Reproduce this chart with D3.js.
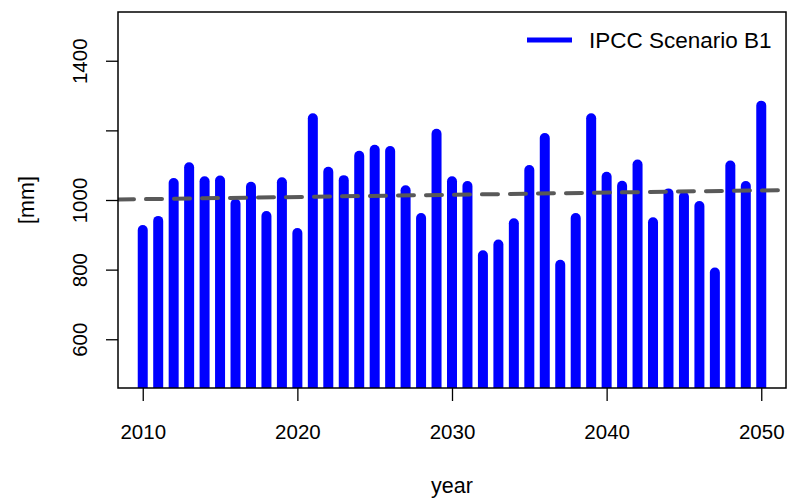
<!DOCTYPE html>
<html>
<head>
<meta charset="utf-8">
<script src="https://cdn.jsdelivr.net/npm/d3@7"></script>
<style>
  body { margin: 0; background: #fff; }
  svg { display: block; }
  text { font-family: "Liberation Sans", Arial, Helvetica, sans-serif; fill: #000; }
</style>
</head>
<body>
<figure id="chart" style="margin:0"></figure>
<script>
// yearly precipitation, scenario B1
const years = [2010, 2011, 2012, 2013, 2014, 2015, 2016, 2017, 2018, 2019,
  2020, 2021, 2022, 2023, 2024, 2025, 2026, 2027, 2028, 2029,
  2030, 2031, 2032, 2033, 2034, 2035, 2036, 2037, 2038, 2039,
  2040, 2041, 2042, 2043, 2044, 2045, 2046, 2047, 2048, 2049, 2050];
const rain = [914, 940, 1049, 1094, 1054, 1056, 989, 1038, 954, 1051,
  905, 1235, 1081, 1057, 1127, 1144, 1141, 1028, 948, 1190,
  1054, 1040, 841, 872, 933, 1086, 1178, 814, 948, 1235,
  1067, 1041, 1102, 936, 1019, 1009, 983, 792, 1099, 1040, 1271];
// linear trend, value at first and last year
const trendYears = [2010, 2050];
const trendValues = [1002.4, 1027.6];

const xTicks = [2010, 2020, 2030, 2040, 2050];
const yTicks = [600, 800, 1000, 1200, 1400];
const yLabels = [600, 800, 1000, 1400];
const seriesName = 'IPCC Scenario B1';

const width = 789, height = 501;
const margin = { top: 12, right: 3, bottom: 113, left: 118 };

const svg = d3.select('figure#chart')
  .append('svg')
  .attr('width', width)
  .attr('height', height);

// R style 4% padding round xlim / ylim
const x = d3.scaleLinear()
  .domain([2008.4, 2051.6])
  .range([margin.left, width - margin.right]);
const y = d3.scaleLinear()
  .domain([460, 1540])
  .range([height - margin.bottom, margin.top]);

const [x0, x1] = x.range();
const [yb, yt] = y.range();

svg.append('clipPath').attr('id', 'plot')
  .append('rect')
  .attr('x', x0).attr('y', yt)
  .attr('width', x1 - x0).attr('height', yb - yt);

const plot = svg.append('g').attr('clip-path', 'url(#plot)');

// type = "h" bars
plot.selectAll('line.bar')
  .data(years)
  .enter()
  .append('line')
  .attr('class', 'bar')
  .attr('x1', d => x(d))
  .attr('x2', d => x(d))
  .attr('y1', yb + 10)
  .attr('y2', (d, i) => y(rain[i]))
  .attr('stroke', '#0000ff')
  .attr('stroke-width', 10)
  .attr('stroke-linecap', 'round');

// trend line across the whole plot
const slope = (trendValues[1] - trendValues[0]) / (trendYears[1] - trendYears[0]);
const trendAt = yr => trendValues[0] + slope * (yr - trendYears[0]);
const xd = x.domain();
plot.append('line')
  .attr('x1', x(xd[0])).attr('y1', y(trendAt(xd[0])))
  .attr('x2', x(xd[1])).attr('y2', y(trendAt(xd[1])))
  .attr('stroke', '#595959')
  .attr('stroke-width', 4)
  .attr('stroke-dasharray', '16 12')
  .attr('stroke-linecap', 'round');

// x axis
const gx = svg.append('g')
  .attr('transform', 'translate(0,' + yb + ')')
  .call(d3.axisBottom(x).tickValues(xTicks).tickSize(13).tickFormat(d3.format('d')));
gx.select('.domain').remove();
gx.selectAll('line').attr('stroke', '#000').attr('stroke-width', 1.3);
gx.selectAll('text')
  .attr('y', 51)
  .attr('dy', null)
  .style('font-size', '20.5px');

// y axis, rotated labels, 1200 left unlabeled
const gy = svg.append('g')
  .attr('transform', 'translate(' + x0 + ',0)')
  .call(d3.axisLeft(y).tickValues(yTicks).tickSize(12)
    .tickFormat(d => yLabels.includes(d) ? d : ''));
gy.select('.domain').remove();
gy.selectAll('line').attr('stroke', '#000').attr('stroke-width', 1.3);
gy.selectAll('text')
  .attr('x', 0)
  .attr('y', 0)
  .attr('dy', null)
  .attr('text-anchor', 'middle')
  .attr('transform', 'translate(-31,0) rotate(-90)')
  .style('font-size', '20.5px');

// box
svg.append('rect')
  .attr('x', x0).attr('y', yt)
  .attr('width', x1 - x0).attr('height', yb - yt)
  .attr('fill', 'none')
  .attr('stroke', '#000')
  .attr('stroke-width', 1.5);

// axis titles
svg.append('text')
  .attr('x', (x0 + x1) / 2)
  .attr('y', 493)
  .attr('text-anchor', 'middle')
  .style('font-size', '21.5px')
  .text('year');

svg.append('text')
  .attr('transform', 'translate(34,' + (yt + yb) / 2 + ') rotate(-90)')
  .attr('text-anchor', 'middle')
  .style('font-size', '21.5px')
  .text('[mm]');

// legend
const lg = svg.append('g');
lg.append('line')
  .attr('x1', 527).attr('x2', 572)
  .attr('y1', 40).attr('y2', 40)
  .attr('stroke', '#0000ff')
  .attr('stroke-width', 5);
lg.append('text')
  .attr('x', 589)
  .attr('y', 48)
  .style('font-size', '22.5px')
  .text(seriesName);
</script>
</body>
</html>
